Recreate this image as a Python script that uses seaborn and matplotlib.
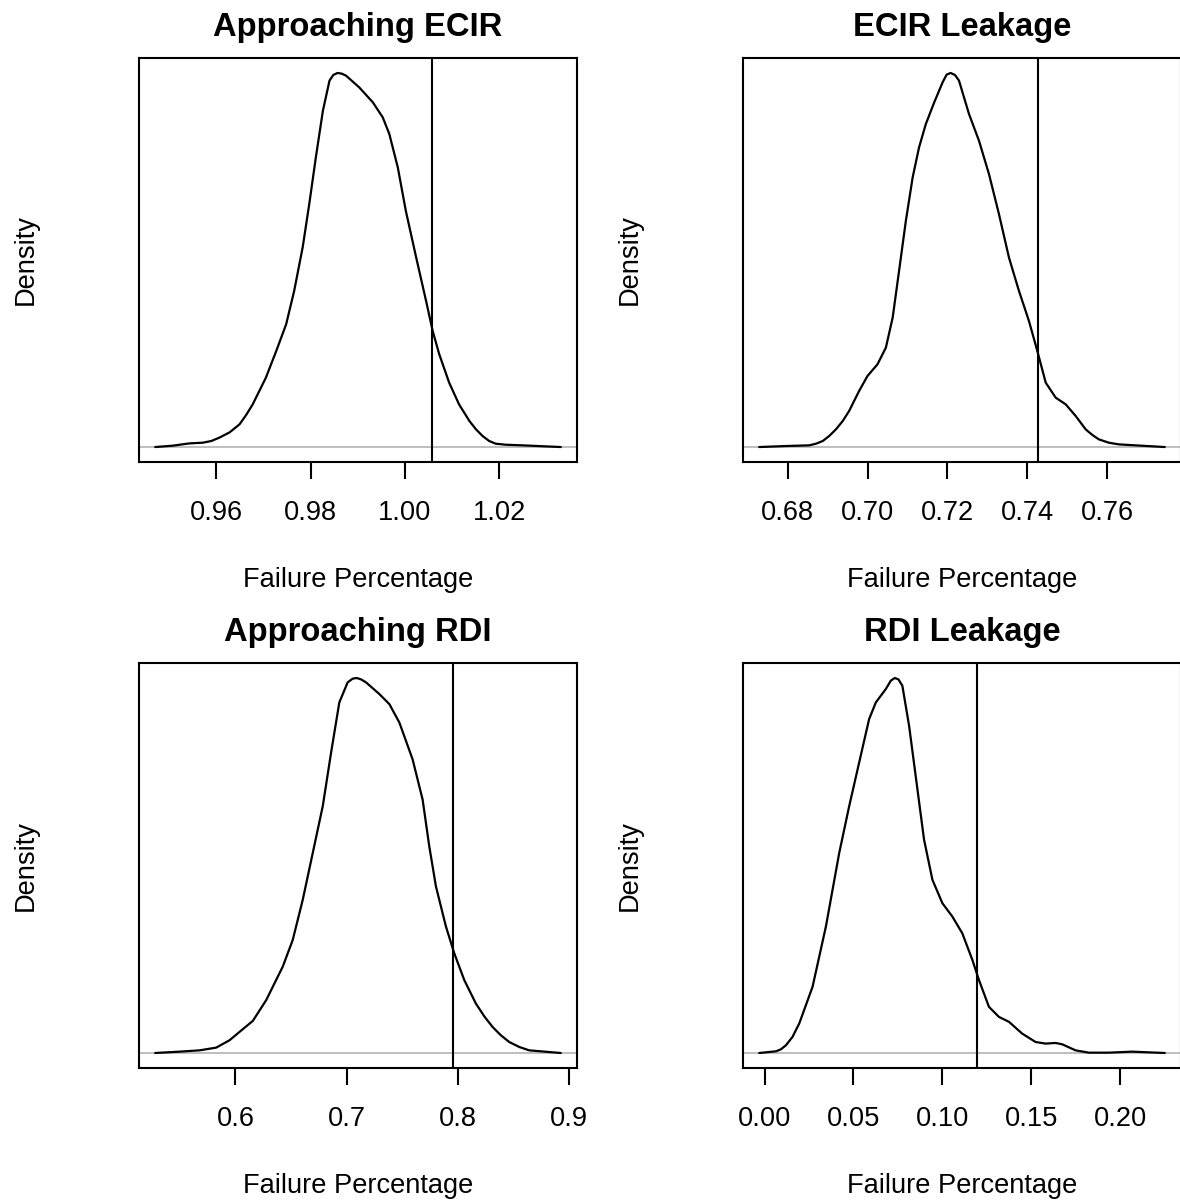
import numpy as np
import pandas as pd
import matplotlib
matplotlib.use("Agg")
import matplotlib.pyplot as plt
import seaborn as sns

# panel titles, thresholds (vertical lines) and tick positions
titles = ["Approaching ECIR", "ECIR Leakage", "Approaching RDI", "RDI Leakage"]
thresholds = [1.0057, 0.74275, 0.7955, 0.1197]
ticks = [
    [0.96, 0.98, 1.00, 1.02],
    [0.68, 0.70, 0.72, 0.74, 0.76],
    [0.6, 0.7, 0.8, 0.9],
    [0.00, 0.05, 0.10, 0.15, 0.20],
]
tick_fmt = ["%.2f", "%.2f", "%.1f", "%.2f"]

# density curves (density relative to the peak)
ecir_app_x = [0.9470, 0.9507, 0.9543, 0.9571, 0.9589, 0.9606, 0.9628, 0.9649, 0.9663,
              0.9677, 0.9705, 0.9727, 0.9748, 0.9765, 0.9783, 0.9797, 0.9811, 0.9826,
              0.9840, 0.9848, 0.9857, 0.9866, 0.9875, 0.9903, 0.9932, 0.9953, 0.9967,
              0.9985, 1.0002, 1.0024, 1.0045, 1.0059, 1.0073, 1.0094, 1.0115, 1.0137,
              1.0151, 1.0165, 1.0179, 1.0193, 1.0214, 1.0250, 1.0331]
ecir_app_y = [0.0, 0.0036, 0.0098, 0.0116, 0.0161, 0.025, 0.0393, 0.0607, 0.0856,
              0.1142, 0.1856, 0.2569, 0.3283, 0.4175, 0.5335, 0.6494, 0.7743, 0.8992,
              0.9795, 0.9946, 1.0, 0.9982, 0.9929, 0.9616, 0.9215, 0.8814, 0.8368,
              0.7475, 0.6316, 0.5067, 0.3907, 0.3104, 0.248, 0.1722, 0.1142, 0.0696,
              0.0473, 0.0294, 0.0161, 0.0089, 0.0062, 0.0045, 0.0]

ecir_leak_x = [0.6729, 0.6796, 0.6854, 0.6871, 0.6888, 0.6904, 0.6921, 0.6938, 0.6954,
               0.6979, 0.7000, 0.7025, 0.7046, 0.7063, 0.7079, 0.7096, 0.7113, 0.7129,
               0.7146, 0.7167, 0.7188, 0.7198, 0.7208, 0.7219, 0.7229, 0.7254, 0.7279,
               0.7304, 0.7329, 0.7354, 0.7379, 0.7404, 0.7425, 0.7446, 0.7471, 0.7496,
               0.7521, 0.7546, 0.7563, 0.7579, 0.7604, 0.7629, 0.7744]
ecir_leak_y = [0.0, 0.0027, 0.0045, 0.0089, 0.0161, 0.0294, 0.0473, 0.0696, 0.0963,
               0.1499, 0.19, 0.2212, 0.2658, 0.3461, 0.471, 0.6048, 0.7208, 0.8011,
               0.8635, 0.9215, 0.975, 0.9955, 1.0, 0.9946, 0.9795, 0.8903, 0.8189,
               0.7297, 0.6227, 0.5067, 0.4175, 0.3372, 0.2569, 0.1722, 0.132, 0.1142,
               0.083, 0.0473, 0.0321, 0.0205, 0.0116, 0.0071, 0.0]

rdi_app_x = [0.5278, 0.5497, 0.5677, 0.5826, 0.5946, 0.6036, 0.6156, 0.6276, 0.6425,
             0.6515, 0.6605, 0.6695, 0.6785, 0.6860, 0.6934, 0.7009, 0.7054, 0.7090,
             0.7129, 0.7174, 0.7294, 0.7384, 0.7474, 0.7593, 0.7683, 0.7743, 0.7803,
             0.7893, 0.7968, 0.8058, 0.8162, 0.8237, 0.8312, 0.8387, 0.8462, 0.8552,
             0.8642, 0.8926]
rdi_app_y = [0.0, 0.0036, 0.0071, 0.0143, 0.0339, 0.0562, 0.0856, 0.1409, 0.2302,
             0.3015, 0.4086, 0.5334, 0.6583, 0.8011, 0.9349, 0.9884, 0.9982, 1.0,
             0.9964, 0.9884, 0.9572, 0.9304, 0.8813, 0.7832, 0.6762, 0.5513, 0.4442,
             0.3372, 0.2658, 0.1945, 0.132, 0.0981, 0.0696, 0.0473, 0.0294, 0.0161,
             0.0071, 0.0]

rdi_leak_x = [-0.0030, 0.0064, 0.0092, 0.0120, 0.0157, 0.0195, 0.0270, 0.0345, 0.0420,
              0.0476, 0.0532, 0.0588, 0.0626, 0.0682, 0.0710, 0.0732, 0.0753, 0.0775,
              0.0813, 0.0850, 0.0897, 0.0944, 0.1000, 0.1056, 0.1112, 0.1169, 0.1206,
              0.1262, 0.1318, 0.1375, 0.1449, 0.1524, 0.1581, 0.1637, 0.1674, 0.1749,
              0.1824, 0.1936, 0.2067, 0.2251]
rdi_leak_y = [0.0, 0.0045, 0.0098, 0.0205, 0.0428, 0.0785, 0.1766, 0.3372, 0.5335,
              0.6583, 0.7743, 0.8903, 0.9349, 0.9706, 0.9929, 1.0, 0.9964, 0.9795,
              0.8724, 0.7386, 0.5691, 0.4621, 0.3996, 0.364, 0.3194, 0.248, 0.1945,
              0.1231, 0.0963, 0.083, 0.0517, 0.0294, 0.025, 0.0268, 0.0232, 0.0071,
              0.0009, 0.0009, 0.0036, 0.0]

curves = [
    (ecir_app_x, ecir_app_y),
    (ecir_leak_x, ecir_leak_y),
    (rdi_app_x, rdi_app_y),
    (rdi_leak_x, rdi_leak_y),
]

sns.set_theme(style="white")
plt.rcParams["font.family"] = ["Liberation Sans", "DejaVu Sans"]
plt.rcParams["text.color"] = "black"
plt.rcParams["axes.labelcolor"] = "black"
plt.rcParams["axes.edgecolor"] = "black"
plt.rcParams["axes.linewidth"] = 1.5

W, H = 1180, 1203
fig = plt.figure(figsize=(W / 100, H / 100), dpi=100)

# axes boxes in pixels: left, top, width, height
boxes = [(139, 58, 438, 404), (743, 58, 438, 404),
         (139, 663, 438, 405), (743, 663, 438, 405)]

for i, (l, t, w, h) in enumerate(boxes):
    ax = fig.add_axes([l / W, 1 - (t + h) / H, w / W, h / H])
    xs, ys = curves[i]
    df = pd.DataFrame({"x": xs, "density": ys})
    ax.axhline(0, color="#bebebe", lw=1.4, zorder=1)
    sns.lineplot(data=df, x="x", y="density", ax=ax, color="black", lw=1.6,
                 estimator=None, zorder=3)
    ax.axvline(thresholds[i], color="black", lw=1.5, zorder=2)

    lo, hi = min(xs), max(xs)
    pad = 0.04 * (hi - lo)
    ax.set_xlim(lo - pad, hi + pad)
    ax.set_ylim(-0.04, 1.04)

    ax.set_xticks(ticks[i])
    ax.set_xticklabels([tick_fmt[i] % v for v in ticks[i]])
    ax.set_yticks([])
    ax.tick_params(axis="x", direction="out", length=12, width=1.5,
                   labelsize=19.6, pad=15, colors="black", bottom=True)
    for s in ax.spines.values():
        s.set_visible(True)
        s.set_color("black")
        s.set_linewidth(1.5)

    ax.set_title(titles[i], fontsize=23.6, fontweight="bold", pad=16, color="black")
    ax.set_xlabel("Failure Percentage", fontsize=19.6, labelpad=30)
    ax.set_ylabel("Density", fontsize=19.6, labelpad=72)

fig.savefig("out.png", dpi=100)
